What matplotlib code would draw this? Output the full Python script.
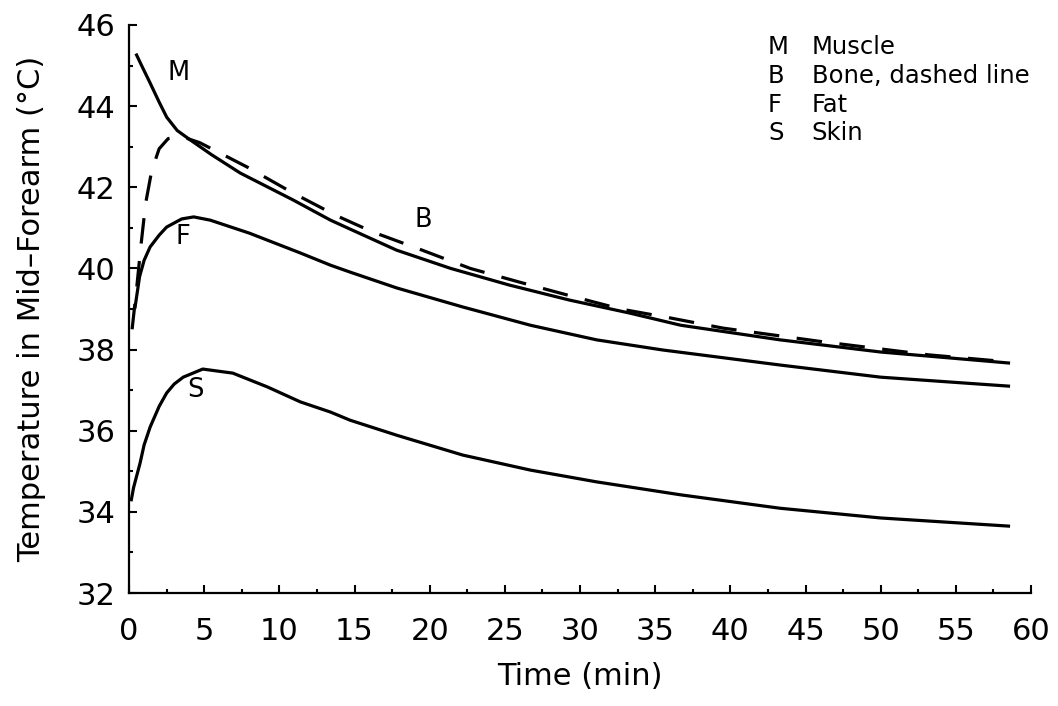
import matplotlib
matplotlib.use('Agg')
import matplotlib.pyplot as plt
from matplotlib.ticker import MultipleLocator

# values (time in min, temperature in deg C)
muscle_t = [0.5, 0.9, 1.4, 2.0, 2.5, 3.2, 4.06, 5.5, 7.4, 10.9, 13.4, 14.7,
            17.8, 21.4, 25.3, 29.3, 33.3, 36.7, 43.3, 50.0, 58.5]
muscle_y = [45.26, 44.95, 44.57, 44.1, 43.73, 43.4, 43.17, 42.8, 42.35, 41.69, 41.19, 40.97,
            40.45, 40.0, 39.59, 39.22, 38.9, 38.6, 38.24, 37.94, 37.67]

bone_t = [0.2, 0.5, 0.8, 1.1, 1.5, 2.0, 2.6, 3.5, 4.7, 7.85, 10.9, 13.8, 16.2,
          19.5, 22.7, 25.9, 29.2, 32.7, 36.0, 39.5, 46.2, 53.2, 57.8]
bone_y = [38.5, 39.5, 40.6, 41.6, 42.4, 42.95, 43.2, 43.25, 43.1, 42.5, 41.86, 41.3, 40.9,
          40.45, 40.0, 39.67, 39.34, 39.0, 38.78, 38.53, 38.19, 37.87, 37.72]

fat_t = [0.4, 0.7, 1.0, 1.4, 2.0, 2.5, 3.5, 4.3, 5.4, 8.0, 11.4, 13.4, 14.7, 17.8,
         22.2, 26.7, 31.1, 35.5, 43.3, 50.0, 58.5]
fat_y = [39.05, 39.8, 40.2, 40.53, 40.82, 41.02, 41.22, 41.27, 41.19, 40.87, 40.38, 40.08, 39.91, 39.52,
         39.05, 38.6, 38.24, 37.99, 37.62, 37.32, 37.1]

skin_t = [0.15, 0.3, 0.73, 1.0, 1.4, 2.0, 2.5, 3.0, 3.6, 4.9, 6.9, 9.2, 11.4, 13.4, 14.7, 17.8,
          22.2, 26.7, 31.1, 36.7, 43.3, 50.0, 58.5]
skin_y = [34.3, 34.6, 35.2, 35.65, 36.09, 36.6, 36.93, 37.15, 37.32, 37.52, 37.42, 37.08, 36.71, 36.46,
          36.26, 35.89, 35.4, 35.03, 34.74, 34.42, 34.09, 33.85, 33.65]

curve_labels = ['M', 'F', 'S', 'B']
curve_label_pos = [(3.26, 44.82), (3.6, 40.77), (4.4, 37.0), (19.56, 41.19)]

key_letters = ['M', 'B', 'F', 'S']
key_names = ['Muscle', 'Bone, dashed line', 'Fat', 'Skin']

fig = plt.figure(figsize=(10.58, 7.06), dpi=100)
ax = fig.add_axes([0.122, 0.160, 0.8525, 0.8046])

lw = 2.3
ax.plot(muscle_t, muscle_y, color='black', lw=lw)
ax.plot(bone_t, bone_y, color='black', lw=lw, dashes=(8, 5.5))
ax.plot(fat_t, fat_y, color='black', lw=lw)
ax.plot(skin_t, skin_y, color='black', lw=lw)

for lab, (x, y) in zip(curve_labels, curve_label_pos):
    ax.text(x, y, lab, fontsize=18.5, ha='center', va='center')

# key in the upper right corner
for i, (letter, name) in enumerate(zip(key_letters, key_names)):
    y = 45.46 - i * 0.71
    ax.text(42.5, y, letter, fontsize=17.5, va='center', ha='left')
    ax.text(45.4, y, name, fontsize=17.5, va='center', ha='left')

ax.set_xlim(0, 60)
ax.set_ylim(32, 46)
ax.xaxis.set_major_locator(MultipleLocator(5))
ax.xaxis.set_minor_locator(MultipleLocator(2.5))
ax.yaxis.set_major_locator(MultipleLocator(2))
ax.yaxis.set_minor_locator(MultipleLocator(1))

ax.spines['top'].set_visible(False)
ax.spines['right'].set_visible(False)
for s in ['left', 'bottom']:
    ax.spines[s].set_linewidth(1.6)

ax.tick_params(which='major', direction='in', length=6, width=1.5, labelsize=22)
ax.tick_params(which='minor', direction='in', length=3, width=1.5)
ax.tick_params(axis='x', which='major', pad=17)
ax.tick_params(axis='y', which='major', pad=10)

ax.set_xlabel('Time (min)', fontsize=22, labelpad=12)
ax.set_ylabel('Temperature in Mid\u2013Forearm (\u00b0C)', fontsize=22, labelpad=22)

fig.savefig('out.png', dpi=100)
